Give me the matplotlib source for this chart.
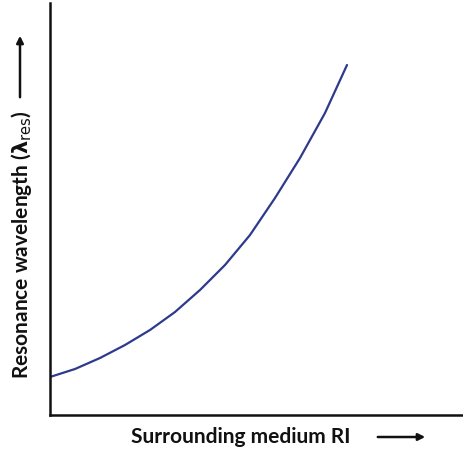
import matplotlib
matplotlib.use("Agg")
import matplotlib.pyplot as plt
from matplotlib.patches import FancyArrowPatch

# curve samples (arbitrary units, axes carry no ticks)
ri = [0, 25, 50, 75, 100, 125, 150, 175, 200, 225, 250, 275, 297]
lam_res = [38, 46, 57, 70, 85, 103, 125, 150, 180, 217, 257, 302, 350]

plt.rcParams['font.family'] = ['Lato', 'DejaVu Sans']
plt.rcParams['mathtext.fontset'] = 'dejavusans'

W, H = 464, 453
fig = plt.figure(figsize=(W / 100, H / 100), dpi=100)
ax = fig.add_axes([50 / W, 38 / H, 414 / W, 412 / H])

ax.plot(ri, lam_res, color='#2e3a8c', linewidth=1.6,
        solid_joinstyle='round', solid_capstyle='round')

ax.set_xlim(0, 414)
ax.set_ylim(0, 412)
ax.set_xticks([])
ax.set_yticks([])
for s in ['top', 'right']:
    ax.spines[s].set_visible(False)
for s in ['left', 'bottom']:
    ax.spines[s].set_linewidth(1.8)
    ax.spines[s].set_color('#111111')

fig.text(241 / W, 1 - 437 / H, "Surrounding medium RI", ha='center', va='center',
         fontsize=15, fontweight='bold', color='#111111')
fig.text(22 / W, 1 - 245 / H, r"Resonance wavelength ($\mathbf{\lambda}_{\mathrm{res}}$)",
         ha='center', va='center', rotation=90,
         fontsize=15, fontweight='bold', color='#111111')

# direction arrows
arrow = dict(arrowstyle='-|>', color='#111111', lw=1.8, mutation_scale=10)
fig.add_artist(FancyArrowPatch((375 / W, 1 - 437 / H), (428 / W, 1 - 437 / H),
                               transform=fig.transFigure, **arrow))
fig.add_artist(FancyArrowPatch((20 / W, 1 - 100 / H), (20 / W, 1 - 33 / H),
                               transform=fig.transFigure, **arrow))

fig.savefig("out.png", dpi=100)
